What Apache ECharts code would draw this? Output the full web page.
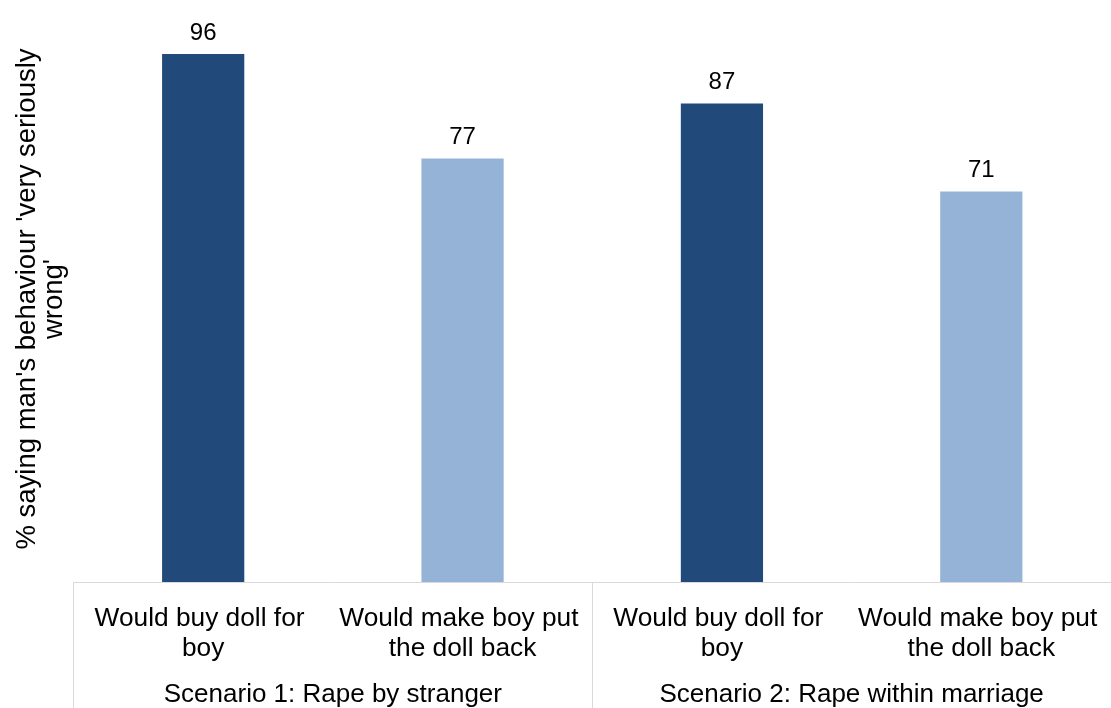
<!DOCTYPE html>
<html>
<head>
<meta charset="utf-8">
<script src="https://cdn.jsdelivr.net/npm/echarts@6/dist/echarts.min.js"></script>
<style>html,body{margin:0;padding:0;background:#fff}#c{width:1111px;height:708px}</style>
</head>
<body>
<div id="c"></div>
<script>
const categories = ["Would buy doll for boy", "Would make boy put the doll back", "Would buy doll for boy", "Would make boy put the doll back"];
const scenarios = ["Scenario 1: Rape by stranger", "Scenario 2: Rape within marriage"];
const values = [96, 77, 87, 71];
const yAxisTitle = "% saying man's behaviour 'very seriously\nwrong'";

const DARK = '#214A7B', LIGHT = '#95B3D7';
const FONT = 'Liberation Sans, Arial, sans-serif';
const chart = echarts.init(document.getElementById('c'), null, {renderer: 'canvas'});
chart.setOption({
  animation: false,
  backgroundColor: '#fff',
  textStyle: {fontFamily: FONT},
  grid: {left: 73.5, top: 32, width: 1048, height: 552, containLabel: false},
  xAxis: [{
    type: 'category', position: 'bottom', data: categories,
    axisLine: {show: true, lineStyle: {color: '#d9d9d9', width: 1}},
    axisTick: {show: false},
    axisLabel: {interval: 0, fontSize: 26.3, lineHeight: 29.5, color: '#000', margin: 22, width: 250, overflow: 'break', fontFamily: FONT}
  }, {
    type: 'category', position: 'bottom', data: scenarios,
    axisLine: {show: false},
    axisTick: {show: true, length: 130, interval: 0, lineStyle: {color: '#d9d9d9', width: 1}},
    axisLabel: {interval: 0, fontSize: 26, lineHeight: 26, color: '#000', margin: 100, fontFamily: FONT}
  }],
  yAxis: {
    type: 'value', min: 0, max: 100,
    name: yAxisTitle, nameLocation: 'middle', nameRotate: 90, nameGap: 6,
    nameTextStyle: {fontSize: 27.5, lineHeight: 27, color: '#000', fontFamily: FONT, align: 'center', padding: [0, 0, 0, 16]},
    axisLine: {show: false}, axisTick: {show: false}, axisLabel: {show: false}, splitLine: {show: false}
  },
  series: [{
    type: 'bar', xAxisIndex: 0, data: values, barWidth: '31.7%',
    itemStyle: {color: p => p.dataIndex % 2 === 0 ? DARK : LIGHT},
    label: {show: true, position: 'top', distance: 9, fontSize: 24, color: '#000', fontFamily: FONT}
  }]
});
</script>
</body>
</html>
